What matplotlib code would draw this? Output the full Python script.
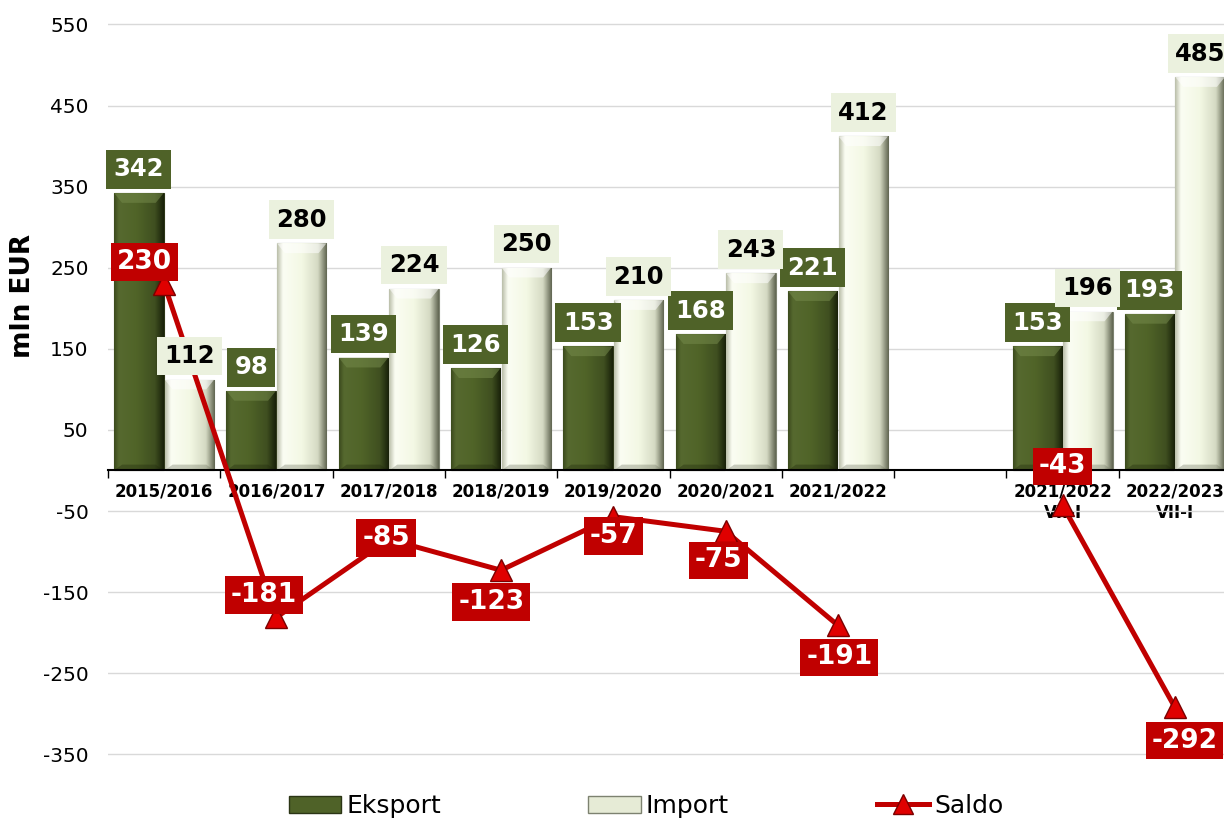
import matplotlib.pyplot as plt
import numpy as np
from matplotlib.colors import LinearSegmentedColormap
from matplotlib.patches import Patch, Polygon
from matplotlib.lines import Line2D

plt.rcParams['axes.unicode_minus'] = False

# data
seasons = ['2015/2016', '2016/2017', '2017/2018', '2018/2019', '2019/2020',
           '2020/2021', '2021/2022', '', '2021/2022\nVII-I', '2022/2023\nVII-I']
eksport = [342, 98, 139, 126, 153, 168, 221, np.nan, 153, 193]
uvoz = [112, 280, 224, 250, 210, 243, 412, np.nan, 196, 485]
saldo = [230, -181, -85, -123, -57, -75, -191, np.nan, -43, -292]

# where each saldo label sits relative to its point (points)
saldo_offsets = [(-14, 16), (-9, 16), (-2, 1), (-7, -23), (0, -14),
                 (-5, -21), (1, -23), (0, 0), (0, 28), (7, -24)]

GREEN = '#4F6228'
CREAM = '#EBF1DE'
RED = '#C00000'

fig = plt.figure(figsize=(12.24, 8.18), dpi=100)
ax = fig.add_axes([108 / 1224, 28 / 818, 1123 / 1224, 790 / 818])
for s in ['top', 'right', 'left']:
    ax.spines[s].set_visible(False)
ax.spines['bottom'].set_position(('data', 0))
ax.spines['bottom'].set_linewidth(1.5)

x = np.arange(len(seasons))
off = 0.225
w = 0.44

green_cmap = LinearSegmentedColormap.from_list(
    'g', [(0, '#3b4a1d'), (0.1, '#56692f'), (0.45, '#506428'), (0.82, '#3f4f20'), (1, '#182009')])
cream_cmap = LinearSegmentedColormap.from_list(
    'c', [(0, '#b9bda8'), (0.12, '#fbfdf3'), (0.5, '#f3f8e4'), (0.82, '#d5dac3'), (1, '#5f6450')])


def shade(bars, cmap, top_col, bot_col):
    grad = np.linspace(0, 1, 256).reshape(1, -1)
    for b in bars:
        bx, by = b.get_x(), b.get_y()
        bw, bh = b.get_width(), b.get_height()
        im = ax.imshow(grad, cmap=cmap, extent=[bx, bx + bw, by, by + bh],
                       aspect='auto', zorder=2.2, interpolation='bicubic')
        im.set_clip_path(b)
        # bevel at the top and bottom
        d = min(12, bh / 3)
        ins = 0.07
        top = by + bh
        ax.add_patch(Polygon([(bx, top), (bx + bw, top), (bx + bw - ins, top - d), (bx + ins, top - d)],
                             closed=True, fc=top_col, ec='none', alpha=0.55, zorder=2.3))
        ax.add_patch(Polygon([(bx, by), (bx + bw, by), (bx + bw - ins, by + d * 0.6), (bx + ins, by + d * 0.6)],
                             closed=True, fc=bot_col, ec='none', alpha=0.35, zorder=2.3))


ek = np.array(eksport, dtype=float)
im_ = np.array(uvoz, dtype=float)
sa = np.array(saldo, dtype=float)
ok = ~np.isnan(ek)

bars_e = ax.bar(x[ok] - off, ek[ok], w, color=GREEN, edgecolor='#2b3515', lw=0.8, zorder=2)
bars_i = ax.bar(x[ok] + off, im_[ok], w, color='#F5F9EA', edgecolor='#7d8270', lw=0.8, zorder=2)
shade(bars_e, green_cmap, '#74894a', '#1f280c')
shade(bars_i, cream_cmap, '#ffffff', '#6f7460')

# saldo line
ax.plot(x, sa, color=RED, lw=3.6, zorder=4, solid_capstyle='round',
        marker='^', markersize=16, markerfacecolor='#E00000', markeredgecolor='#7a0000',
        markeredgewidth=1)

# bar labels
for xi, v in zip(x[ok], ek[ok]):
    ax.annotate(f'{v:.0f}', (xi - off, v), xytext=(0, 17), textcoords='offset points',
                ha='center', va='center', fontsize=17.5, fontweight='bold', color='white',
                bbox=dict(boxstyle='square,pad=0.3', fc=GREEN, ec='none'), zorder=5)
for xi, v in zip(x[ok], im_[ok]):
    ax.annotate(f'{v:.0f}', (xi + off, v), xytext=(0, 17), textcoords='offset points',
                ha='center', va='center', fontsize=17.5, fontweight='bold', color='black',
                bbox=dict(boxstyle='square,pad=0.3', fc=CREAM, ec='none'), zorder=5)
for xi, v, (dx, dy) in zip(x, sa, saldo_offsets):
    if np.isnan(v):
        continue
    ax.annotate(f'{v:.0f}', (xi, v), xytext=(dx, dy), textcoords='offset points',
                ha='center', va='center', fontsize=19, fontweight='bold', color='white',
                bbox=dict(boxstyle='square,pad=0.22', fc=RED, ec='none'), zorder=6)

# axes
ax.set_xlim(-0.5, len(seasons) - 0.5)
ax.set_ylim(-394, 580.1)
ax.set_yticks(np.arange(-350, 551, 100))
ax.tick_params(axis='y', length=0, pad=14, labelsize=14.5)
ax.set_xticks(x, seasons)
ax.set_xticks(np.arange(-0.5, len(seasons)), minor=True)
ax.tick_params(axis='x', which='major', length=0, pad=9)
ax.tick_params(axis='x', which='minor', length=6, width=1, direction='out')
plt.setp(ax.get_xticklabels(), fontsize=12, fontweight='bold')
ax.grid(axis='y', color='#D9D9D9', lw=1)
ax.set_axisbelow(True)

ax.set_ylabel('mln EUR', fontsize=19, fontweight='bold')
ax.yaxis.set_label_coords(-0.064, 0.625)

handles = [Patch(facecolor=GREEN, edgecolor='#2b3515'),
           Patch(facecolor='#E6EBD6', edgecolor='#7d8270'),
           Line2D([], [], color=RED, lw=3.6, marker='^', markersize=14,
                  markerfacecolor='#E00000', markeredgecolor='#7a0000')]
fig.legend(handles, ['Eksport', 'Import', 'Saldo'], loc='center',
           bbox_to_anchor=(646 / 1224, 1 - 806 / 818), ncol=3, frameon=False,
           fontsize=18, handlelength=2.1, handleheight=0.7, handletextpad=0.2,
           columnspacing=5.9, borderpad=0)

fig.savefig('out.png', dpi=100)
